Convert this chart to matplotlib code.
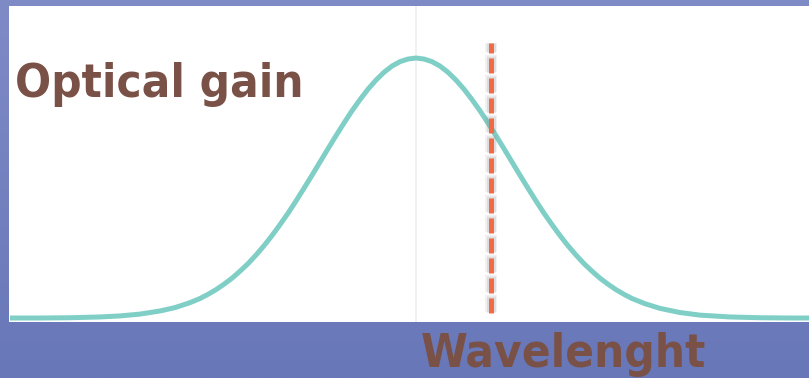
import numpy as np
import matplotlib
matplotlib.use("Agg")
import matplotlib.pyplot as plt
from matplotlib.colors import LinearSegmentedColormap

plt.rcParams["lines.scale_dashes"] = False

# ---- data ----
wavelength = [10, 40, 70, 100, 120, 140, 160, 175, 190,
              200, 208, 216, 224, 232, 240, 248, 256, 264, 272, 280, 288, 296,
              304, 312, 320, 328, 336, 344, 352, 360, 368, 376, 384, 392, 400,
              408, 416, 424, 432, 440, 448, 456, 464, 472, 480, 488, 496, 504,
              512, 520, 528, 536, 544, 552, 560, 568, 576, 584, 592, 600, 608,
              616, 624, 632, 645, 660, 680, 700, 730, 760, 790, 809]
gain = [0.000, 0.000, 0.001, 0.004, 0.008, 0.015, 0.027, 0.040, 0.059,
        0.075, 0.091, 0.109, 0.130, 0.153, 0.180, 0.209, 0.242, 0.278, 0.317,
        0.359, 0.403, 0.450, 0.499, 0.549, 0.600, 0.651, 0.701, 0.750, 0.797,
        0.840, 0.880, 0.915, 0.945, 0.969, 0.986, 0.996, 1.000, 0.996, 0.986,
        0.969, 0.945, 0.915, 0.880, 0.840, 0.797, 0.750, 0.701, 0.651, 0.600,
        0.549, 0.499, 0.450, 0.403, 0.359, 0.317, 0.278, 0.242, 0.209, 0.180,
        0.153, 0.130, 0.109, 0.091, 0.075, 0.055, 0.037, 0.021, 0.011, 0.004,
        0.001, 0.000, 0.000]
peak_wavelength = [416]
operating_wavelength = [491]
operating_span = [0.019, 1.058]
y_label = "Optical gain"
x_label = "Wavelenght"

W, H = 809, 378
fig = plt.figure(figsize=(W / 100, H / 100), dpi=100)

# background gradient
bg = fig.add_axes([0, 0, 1, 1])
cmap = LinearSegmentedColormap.from_list("bg", ["#7f8bc7", "#6877b8"])
grad = np.linspace(0, 1, 256).reshape(-1, 1)
bg.imshow(grad, aspect="auto", cmap=cmap, extent=[0, 1, 0, 1])
bg.set_axis_off()

ax = fig.add_axes([9 / W, 1 - 322 / H, 1 - 9 / W, 316 / H])
ax.set_facecolor("white")
ax.set_xlim(9, 809)
ax.set_ylim(-4 / 260, 312 / 260)
for s in ax.spines.values():
    s.set_visible(False)
ax.set_xticks([])
ax.set_yticks([])

ax.axvline(peak_wavelength[0], color="#efefef", lw=1.2, zorder=1)
ax.plot(wavelength, gain, color="#7fcfc6", lw=3.6, solid_capstyle="butt",
        solid_joinstyle="round", zorder=2)

# dashed marker with a soft shadow
dash_on, dash_off = 10.8, 3.6
for w, a, ext in [(8.5, 0.12, 1.6), (6.5, 0.18, 0.9)]:
    ax.plot([operating_wavelength[0]] * 2, operating_span, color="#8a8a8a", alpha=a,
            lw=w, linestyle=(-ext / 2, (dash_on + ext, dash_off - ext)),
            dash_capstyle="butt", zorder=3)
ax.plot([operating_wavelength[0]] * 2, operating_span, color="#ef6a45",
        lw=3.6, linestyle=(0, (dash_on, dash_off)), dash_capstyle="butt",
        zorder=4)

fam = ["DejaVu Sans"]
fig.text(15 / W, 1 - 97 / H, y_label, color="#7a5146", fontsize=34, fontweight="bold",
         family=fam, fontstretch="condensed", ha="left", va="baseline")
fig.text(421 / W, 1 - 367 / H, x_label, color="#7a5146", fontsize=34, fontweight="bold",
         family=fam, fontstretch="condensed", ha="left", va="baseline")

fig.savefig("out.png", dpi=100)
